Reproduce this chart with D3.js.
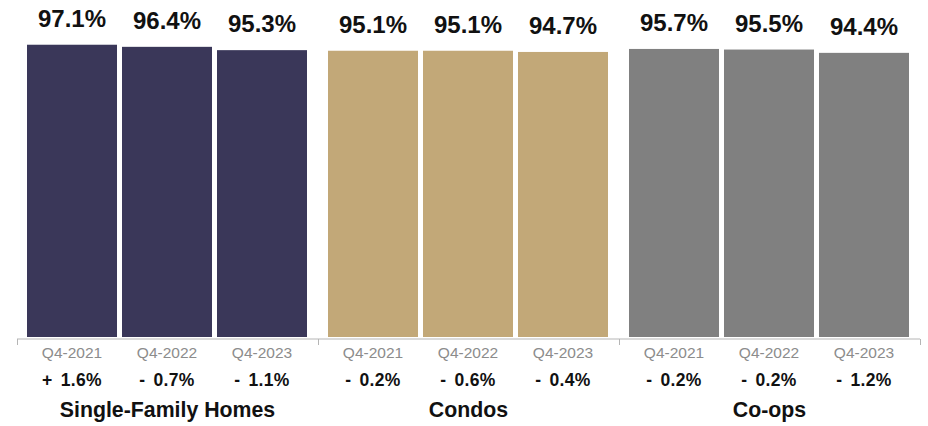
<!DOCTYPE html>
<html>
<head>
<meta charset="utf-8">
<script src="https://cdn.jsdelivr.net/npm/d3@7"></script>
<style>
  html, body { margin: 0; padding: 0; background: #fff; }
  svg { display: block; font-family: "Liberation Sans", Arial, Helvetica, sans-serif; }
</style>
</head>
<body>
<svg id="chart" width="928" height="426"></svg>
<script>
// Property types shown as groups
const groups = ["Single-Family Homes", "Condos", "Co-ops"];
// Quarters within each group
const quarters = ["Q4-2021", "Q4-2022", "Q4-2023"];
// Sale-to-list ratio (%) per group, per quarter
const singleFamily = [97.1, 96.4, 95.3];
const condos = [95.1, 95.1, 94.7];
const coops = [95.7, 95.5, 94.4];
// Year-over-year change labels per group
const singleFamilyChange = ["+ 1.6%", "- 0.7%", "- 1.1%"];
const condosChange = ["- 0.2%", "- 0.6%", "- 0.4%"];
const coopsChange = ["- 0.2%", "- 0.2%", "- 1.2%"];

const groupColors = ["#3a3759", "#c2a878", "#808080"];

const seriesValues = [singleFamily, condos, coops];
const seriesChanges = [singleFamilyChange, condosChange, coopsChange];

const rows = groups.map((g, gi) => ({
  group: g,
  color: groupColors[gi],
  bars: quarters.map((q, qi) => ({ quarter: q, value: seriesValues[gi][qi], change: seriesChanges[gi][qi] }))
}));

const svg = d3.select("#chart");
const baseY = 337;

const x0 = d3.scaleBand().domain(groups).range([17, 920]).padding(0);
const x1 = d3.scaleBand().domain(quarters).range([10, 290]).paddingInner(0.0526).paddingOuter(0);
const y = d3.scaleLinear().domain([0, 100]).range([baseY, 36]);

// Axis baseline with group separators
const axisG = svg.append("g").attr("transform", `translate(0,${baseY + 2})`);
axisG.append("line")
  .attr("x1", x0.range()[0]).attr("x2", x0.range()[1])
  .attr("stroke", "#b5b5b5").attr("stroke-width", 1);
const edges = groups.map(g => x0(g)).concat([x0.range()[1]]);
axisG.selectAll("line.sep").data(edges).join("line")
  .attr("class", "sep")
  .attr("x1", d => d + 0.5).attr("x2", d => d + 0.5)
  .attr("y1", 0).attr("y2", 6)
  .attr("stroke", "#b5b5b5").attr("stroke-width", 1);

const g = svg.selectAll("g.grp").data(rows).join("g")
  .attr("class", "grp")
  .attr("transform", d => `translate(${x0(d.group)},0)`);

// Bars
g.selectAll("rect").data(d => d.bars.map(b => ({ ...b, color: d.color }))).join("rect")
  .attr("x", d => x1(d.quarter))
  .attr("width", x1.bandwidth())
  .attr("y", d => y(d.value))
  .attr("height", d => baseY - y(d.value))
  .attr("fill", d => d.color);

// Value labels above bars
g.selectAll("text.val").data(d => d.bars).join("text")
  .attr("class", "val")
  .attr("x", d => x1(d.quarter) + x1.bandwidth() / 2)
  .attr("y", d => y(d.value) - 18)
  .attr("text-anchor", "middle")
  .attr("font-size", 24)
  .attr("font-weight", "bold")
  .attr("fill", "#111")
  .text(d => d.value.toFixed(1) + "%");

// Quarter labels
g.selectAll("text.q").data(d => d.bars).join("text")
  .attr("class", "q")
  .attr("x", d => x1(d.quarter) + x1.bandwidth() / 2)
  .attr("y", 358)
  .attr("text-anchor", "middle")
  .attr("font-size", 15.5)
  .attr("fill", "#8c8c8c")
  .text(d => d.quarter);

// Change labels
g.selectAll("text.chg").data(d => d.bars).join("text")
  .attr("class", "chg")
  .attr("x", d => x1(d.quarter) + x1.bandwidth() / 2)
  .attr("y", 386)
  .attr("text-anchor", "middle")
  .attr("font-size", 17.5)
  .attr("font-weight", "bold")
  .attr("fill", "#111")
  .attr("word-spacing", 3)
  .attr("letter-spacing", 0.3)
  .text(d => d.change);

// Group titles
g.append("text")
  .attr("x", x0.bandwidth() / 2)
  .attr("y", 417)
  .attr("text-anchor", "middle")
  .attr("font-size", 21.3)
  .attr("font-weight", "bold")
  .attr("fill", "#111")
  .text(d => d.group);
</script>
</body>
</html>
